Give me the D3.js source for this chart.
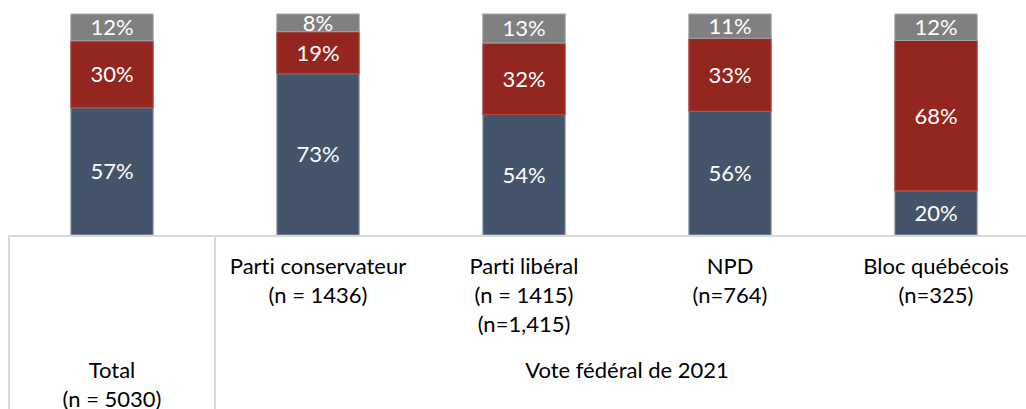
<!DOCTYPE html>
<html>
<head>
<meta charset="utf-8">
<script src="https://cdn.jsdelivr.net/npm/d3@7"></script>
<style>
  html, body { margin: 0; padding: 0; background: #fff; }
  svg { display: block; }
  text { font-family: Lato, "Open Sans", sans-serif; font-variant-ligatures: none; font-feature-settings: "liga" 0, "clig" 0; }
</style>
</head>
<body>
<svg id="chart" width="1026" height="409"></svg>
<script>
// ---- data ----
const categories = ["Total", "Parti conservateur", "Parti libéral", "NPD", "Bloc québécois"];
const categoryLabels = [
  ["Total", "(n = 5030)"],
  ["Parti conservateur", "(n = 1436)"],
  ["Parti libéral", "(n = 1415)", "(n=1,415)"],
  ["NPD", "(n=764)"],
  ["Bloc québécois", "(n=325)"]
];
const seriesNames = ["s1", "s2", "s3"];
const series1 = [57, 73, 54, 56, 20];   // blue (bottom)
const series2 = [30, 19, 32, 33, 68];   // red (middle)
const series3 = [12, 8, 13, 11, 12];    // gray (top)
const groupLabel = "Vote fédéral de 2021";
const colors = ["#44546A", "#942620", "#808080"];

// ---- layout ----
const svg = d3.select("#chart");
const baseY = 235, topY = 14;
const fontSize = 22;

const x = d3.scaleBand().domain(categories).range([9, 1039]).paddingInner(0.6).paddingOuter(0.3);
const y = d3.scaleLinear().domain([0, 1]).range([baseY, topY]);

const rows = categories.map((c, i) => ({ cat: c, s1: series1[i], s2: series2[i], s3: series3[i] }));
// 100% stacked: normalise each column by its total
const stack = d3.stack().keys(seriesNames).offset(d3.stackOffsetExpand);
const stacked = stack(rows);

const g = svg.append("g");
stacked.forEach((layer, li) => {
  const lg = g.append("g");
  lg.selectAll("rect").data(layer).join("rect")
    .attr("x", d => x(d.data.cat))
    .attr("width", x.bandwidth())
    .attr("y", d => y(d[1]))
    .attr("height", d => y(d[0]) - y(d[1]))
    .attr("fill", colors[li])
    .attr("stroke", li === 0 ? "#9aa3b0" : (li === 1 ? "#b04a45" : "#a6a6a6"))
    .attr("stroke-width", 1);
  lg.selectAll("text").data(layer).join("text")
    .attr("x", d => x(d.data.cat) + x.bandwidth() / 2)
    .attr("y", d => (y(d[0]) + y(d[1])) / 2)
    .attr("dy", "0.36em")
    .attr("text-anchor", "middle")
    .attr("fill", "#fff")
    .attr("font-size", fontSize)
    .text(d => d.data[seriesNames[li]] + "%");
});

// ---- axis table ----
const lineColor = "#d9d9d9";
const axisG = svg.append("g");
axisG.append("line").attr("x1", 8).attr("x2", 1039).attr("y1", baseY + 1).attr("y2", baseY + 1)
  .attr("stroke", lineColor).attr("stroke-width", 2);
const sepX = [x.range()[0], x.range()[0] + x.step()];
sepX.forEach(sx => {
  axisG.append("line").attr("x1", sx).attr("x2", sx).attr("y1", baseY).attr("y2", 409)
    .attr("stroke", lineColor).attr("stroke-width", 2);
});

// category labels
categories.forEach((c, i) => {
  const lines = categoryLabels[i];
  const t = axisG.append("text")
    .attr("text-anchor", "middle")
    .attr("font-size", fontSize)
    .attr("fill", "#000");
  const startY = i === 0 ? 378 : 274;
  lines.forEach((ln, k) => {
    t.append("tspan").attr("x", x(c) + x.bandwidth() / 2).attr("y", startY + k * 29).text(ln);
  });
});

// group label
const groupCats = categories.slice(1);
const gx = d3.mean(groupCats, c => x(c) + x.bandwidth() / 2);
axisG.append("text").attr("x", gx).attr("y", 378).attr("text-anchor", "middle")
  .attr("font-size", fontSize).attr("fill", "#000").text(groupLabel);
</script>
</body>
</html>
